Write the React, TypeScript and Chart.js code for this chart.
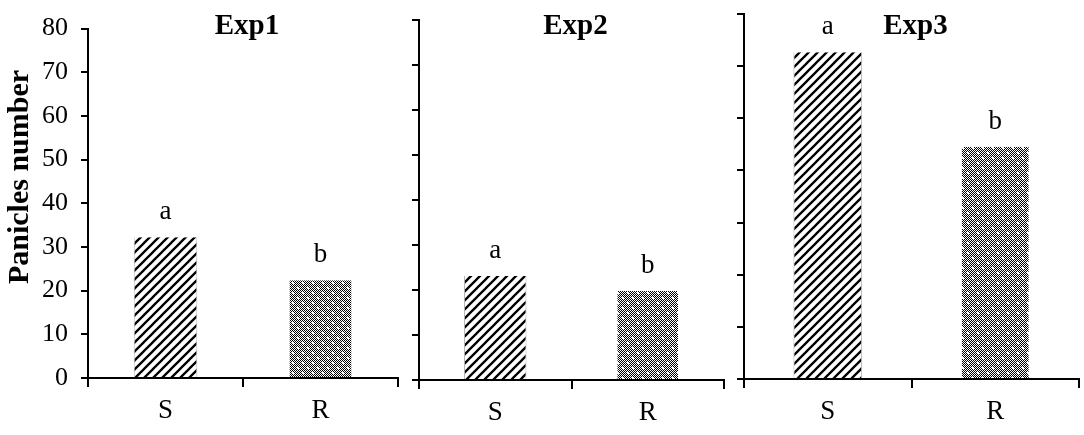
import { Chart, registerables } from "chart.js";
import { useEffect, useRef } from "react";

Chart.register(...registerables);

// data
const categories = ["S", "R"];
const exp1Values = [32.2, 22.4];
const exp2Values = [23.1, 19.8];
const exp3Values = [71.6, 50.9];
const exp1Letters = ["a", "b"];
const exp2Letters = ["a", "b"];
const exp3Letters = ["a", "b"];
const panelTitles = ["Exp1", "Exp2", "Exp3"];
const yAxisTitle = "Panicles number";
const yMax = 80;
const yStep = 10;

const SERIF = "'Liberation Serif', 'Times New Roman', serif";

function stripePattern(ctx: CanvasRenderingContext2D) {
  const s = 9;
  const c = document.createElement("canvas");
  c.width = s;
  c.height = s;
  const p = c.getContext("2d")!;
  p.fillStyle = "#fff";
  p.fillRect(0, 0, s, s);
  p.strokeStyle = "#000";
  p.lineWidth = 2.3;
  p.beginPath();
  // lines x + y = 0, s, 2s so the tile repeats seamlessly
  for (const k of [0, s, 2 * s]) {
    p.moveTo(k - s - 2, s + 2);
    p.lineTo(k + 2, -2);
    p.moveTo(-2, k + 2);
    p.lineTo(k + 2, -2);
  }
  p.stroke();
  return ctx.createPattern(c, "repeat")!;
}

function dotPattern(ctx: CanvasRenderingContext2D) {
  const c = document.createElement("canvas");
  c.width = 10;
  c.height = 10;
  const p = c.getContext("2d")!;
  p.fillStyle = "#fff";
  p.fillRect(0, 0, 10, 10);
  p.fillStyle = "#000";
  for (let x = 0; x < 10; x++) {
    for (let y = 0; y < 10; y++) {
      if ((x + y) % 2 === 0) p.fillRect(x, y, 1, 1);
    }
  }
  p.fillStyle = "#fff";
  p.fillRect(2, 2, 2, 2);
  p.fillRect(7, 7, 2, 2);
  return ctx.createPattern(c, "repeat")!;
}

const panelText = {
  id: "panelText",
  afterDraw(chart: any, _args: any, opts: any) {
    const ctx = chart.ctx;
    const area = chart.chartArea;
    ctx.save();
    ctx.fillStyle = "#000";
    ctx.textAlign = "center";
    ctx.textBaseline = "alphabetic";
    ctx.font = `bold 29px ${SERIF}`;
    ctx.fillText(opts.title, (area.left + area.right) / 2 + 4, 34);
    ctx.font = `27px ${SERIF}`;
    const meta = chart.getDatasetMeta(0);
    meta.data.forEach((bar: any, i: number) => {
      ctx.fillText(opts.letters[i], bar.x, bar.y - 18);
    });
    if (opts.yTitle) {
      ctx.translate(20, 177);
      ctx.rotate(-Math.PI / 2);
      ctx.textBaseline = "middle";
      ctx.font = `bold 30px ${SERIF}`;
      ctx.fillText(opts.yTitle, 0, 0);
    }
    ctx.restore();
  },
};

interface PanelProps {
  title: string;
  values: number[];
  letters: string[];
  showLabels: boolean;
  tickCount?: number;
  left: number;
  width: number;
  yWidth: number;
  padRight: number;
  top: number;
  bottom: number;
}

const HEIGHT = 435;

function Panel(props: PanelProps) {
  const ref = useRef<HTMLCanvasElement>(null);

  useEffect(() => {
    if (!ref.current) return;
    const ctx = ref.current.getContext("2d");
    if (!ctx) return;

    const chart = new Chart(ctx, {
      type: "bar",
      data: {
        labels: categories,
        datasets: [
          {
            data: props.values,
            backgroundColor: [stripePattern(ctx), dotPattern(ctx)],
            borderColor: ["#b5b5b5", "rgba(0,0,0,0)"],
            borderWidth: { left: 1, right: 1, top: 0, bottom: 0 },
            borderSkipped: false,
            categoryPercentage: 1,
            barPercentage: 0.41,
          },
        ],
      },
      options: {
        responsive: false,
        animation: false,
        layout: {
          padding: { top: props.top, right: props.padRight, left: 0, bottom: 0 },
        },
        plugins: {
          legend: { display: false },
          tooltip: { enabled: false },
          panelText: {
            title: props.title,
            letters: props.letters,
            yTitle: props.showLabels ? yAxisTitle : "",
          },
        } as any,
        scales: {
          x: {
            offset: true,
            grid: {
              display: true,
              offset: true,
              drawOnChartArea: false,
              drawTicks: true,
              tickLength: 9,
              color: "#000",
              lineWidth: 2,
            },
            border: { display: true, color: "#000", width: 2 },
            ticks: {
              color: "#000",
              font: { family: SERIF, size: 27 },
              padding: 8,
            },
            afterFit: (scale: any) => {
              scale.height = HEIGHT - props.bottom;
            },
          },
          y: {
            min: 0,
            max: yMax,
            grid: {
              drawOnChartArea: false,
              drawTicks: true,
              tickLength: 7,
              color: "#000",
              lineWidth: 2,
            },
            border: { display: true, color: "#000", width: 2 },
            ticks: props.tickCount
              ? { display: props.showLabels, count: props.tickCount }
              : {
                  display: props.showLabels,
                  stepSize: yStep,
                  color: "#000",
                  font: { family: SERIF, size: 26 },
                  padding: 13,
                },
            afterFit: (scale: any) => {
              scale.width = props.yWidth;
            },
          },
        },
      },
      plugins: [panelText],
    });

    return () => {
      chart.destroy();
    };
  }, [props]);

  return (
    <canvas
      ref={ref}
      width={props.width}
      height={HEIGHT}
      style={{ position: "absolute", left: props.left, top: 0 }}
    />
  );
}

const panels: PanelProps[] = [
  {
    title: panelTitles[0],
    values: exp1Values,
    letters: exp1Letters,
    showLabels: true,
    left: 0,
    width: 405,
    yWidth: 88,
    padRight: 7,
    top: 17,
    bottom: 378,
  },
  {
    title: panelTitles[1],
    values: exp2Values,
    letters: exp2Letters,
    showLabels: false,
    left: 405,
    width: 330,
    yWidth: 14,
    padRight: 11,
    top: 20,
    bottom: 380,
  },
  {
    title: panelTitles[2],
    values: exp3Values,
    letters: exp3Letters,
    showLabels: false,
    tickCount: 8,
    left: 735,
    width: 349,
    yWidth: 9,
    padRight: 5,
    top: 14,
    bottom: 379,
  },
];

export default function App() {
  return (
    <div
      style={{
        position: "fixed",
        left: 0,
        top: 0,
        width: 1084,
        height: HEIGHT,
        background: "#fff",
      }}
    >
      {panels.map((p) => (
        <Panel key={p.title} {...p} />
      ))}
    </div>
  );
}
